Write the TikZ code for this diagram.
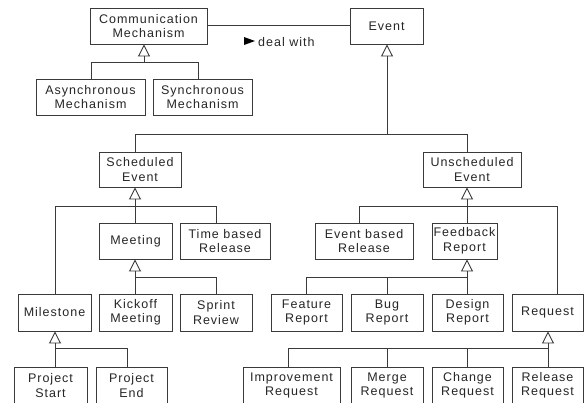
\documentclass[tikz,border=0pt]{standalone}
\usepackage{fontspec}
\usetikzlibrary{arrows.meta}
\newfontfamily\labfont{Liberation Sans}[LetterSpace=8]
\newcommand\lab{\labfont\fontsize{12.5}{14.5}\selectfont}
\definecolor{ink}{HTML}{3A3A3A}
\begin{document}
\begin{tikzpicture}[x=1pt,y=-1pt,
  box/.style={draw=ink, line width=0.9pt, fill=white, inner sep=0pt, align=center, font=\lab, text=black!85},
  link/.style={draw=ink, line width=0.9pt},
  gen/.style={link, -{Triangle[open, width=12pt, length=12pt, line width=0.9pt]}},
]
\useasboundingbox (0,0) rectangle (584,402);
% row 1
\node[box, minimum width=117, minimum height=36] (cm) at (148.5,26) {Communication\\Mechanism};
\node[box, minimum width=73, minimum height=36] (ev) at (386.5,26) {Event};
% row 2
\node[box, minimum width=109, minimum height=36] (async) at (90.5,97) {Asynchronous\\Mechanism};
\node[box, minimum width=99, minimum height=36] (sync) at (202.5,97) {Synchronous\\Mechanism};
% row 3
\node[box, minimum width=82, minimum height=35] (sched) at (140,169.5) {Scheduled\\Event};
\node[box, minimum width=98, minimum height=35] (unsched) at (472,169.5) {Unscheduled\\Event};
% row 4
\node[box, minimum width=73, minimum height=36] (meeting) at (135.5,241) {Meeting};
\node[box, minimum width=90, minimum height=36] (timerel) at (225,241) {Time based\\Release};
\node[box, minimum width=98, minimum height=36] (evrel) at (364,241) {Event based\\Release};
\node[box, minimum width=65, minimum height=36] (feedback) at (464.5,241) {Feedback\\Report};
% row 5
\node[box, minimum width=73, minimum height=37] (milestone) at (54.5,312.5) {Milestone};
\node[box, minimum width=73, minimum height=37] (kickoff) at (135.5,312.5) {Kickoff\\Meeting};
\node[box, minimum width=72, minimum height=37] (sprint) at (216,312.5) {Sprint\\Review};
\node[box, minimum width=71, minimum height=37] (feature) at (306.5,312.5) {Feature\\Report};
\node[box, minimum width=72, minimum height=37] (bug) at (387,312.5) {Bug\\Report};
\node[box, minimum width=71, minimum height=37] (design) at (467.5,312.5) {Design\\Report};
\node[box, minimum width=71, minimum height=37] (request) at (547.5,312.5) {Request};
% row 6
\node[box, minimum width=73, minimum height=37] (pstart) at (50.5,385.5) {Project\\Start};
\node[box, minimum width=71, minimum height=37] (pend) at (131.5,385.5) {Project\\End};
\node[box, minimum width=97, minimum height=37] (improve) at (291.5,385.5) {Improvement\\Request};
\node[box, minimum width=72, minimum height=37] (merge) at (387,385.5) {Merge\\Request};
\node[box, minimum width=71, minimum height=37] (change) at (467.5,385.5) {Change\\Request};
\node[box, minimum width=71, minimum height=37] (release) at (547.5,385.5) {Release\\Request};

% association
\draw[link] (cm.east |- 0,25) -- (ev.west |- 0,25);
\fill[black] (244,37) -- (255,41) -- (244,45) -- cycle;
\node[anchor=base west, inner sep=0pt, font=\lab, text=black!85] (dealwith) at (258,46) {deal with};

% Communication Mechanism
\draw[gen] (144,62) -- (cm.south -| 144,0);
\draw[link] (async.north -| 91,0) |- (198,62) -- (sync.north -| 198,0);
% Event
\draw[gen] (387,134) -- (ev.south -| 387,0);
\draw[link] (sched.north -| 135,0) |- (467,134) -- (unsched.north -| 467,0);
% Scheduled Event
\draw[gen] (135,206) -- (sched.south -| 135,0);
\draw[link] (milestone.north -| 55,0) |- (216,206) -- (timerel.north -| 216,0);
\draw[link] (135,206) -- (meeting.north -| 135,0);
% Meeting
\draw[gen] (135,277) -- (meeting.south -| 135,0);
\draw[link] (kickoff.north -| 135,0) |- (216,277) -- (sprint.north -| 216,0);
% Milestone
\draw[gen] (55,348) -- (milestone.south -| 55,0);
\draw[link] (pstart.north -| 55,0) |- (127,348) -- (pend.north -| 127,0);
% Unscheduled Event
\draw[gen] (467,206) -- (unsched.south -| 467,0);
\draw[link] (evrel.north -| 359,0) |- (557,206) -- (request.north -| 557,0);
\draw[link] (467,206) -- (feedback.north -| 467,0);
% Feedback Report
\draw[gen] (467,277) -- (feedback.south -| 467,0);
\draw[link] (feature.north -| 306,0) |- (467,277) -- (design.north -| 467,0);
\draw[link] (bug.north -| 387,0) -- (387,277);
% Request
\draw[gen] (548,348) -- (request.south -| 548,0);
\draw[link] (improve.north -| 288,0) |- (548,348) -- (release.north -| 548,0);
\draw[link] (merge.north -| 387,0) -- (387,348);
\draw[link] (change.north -| 467,0) -- (467,348);
\end{tikzpicture}
\end{document}
